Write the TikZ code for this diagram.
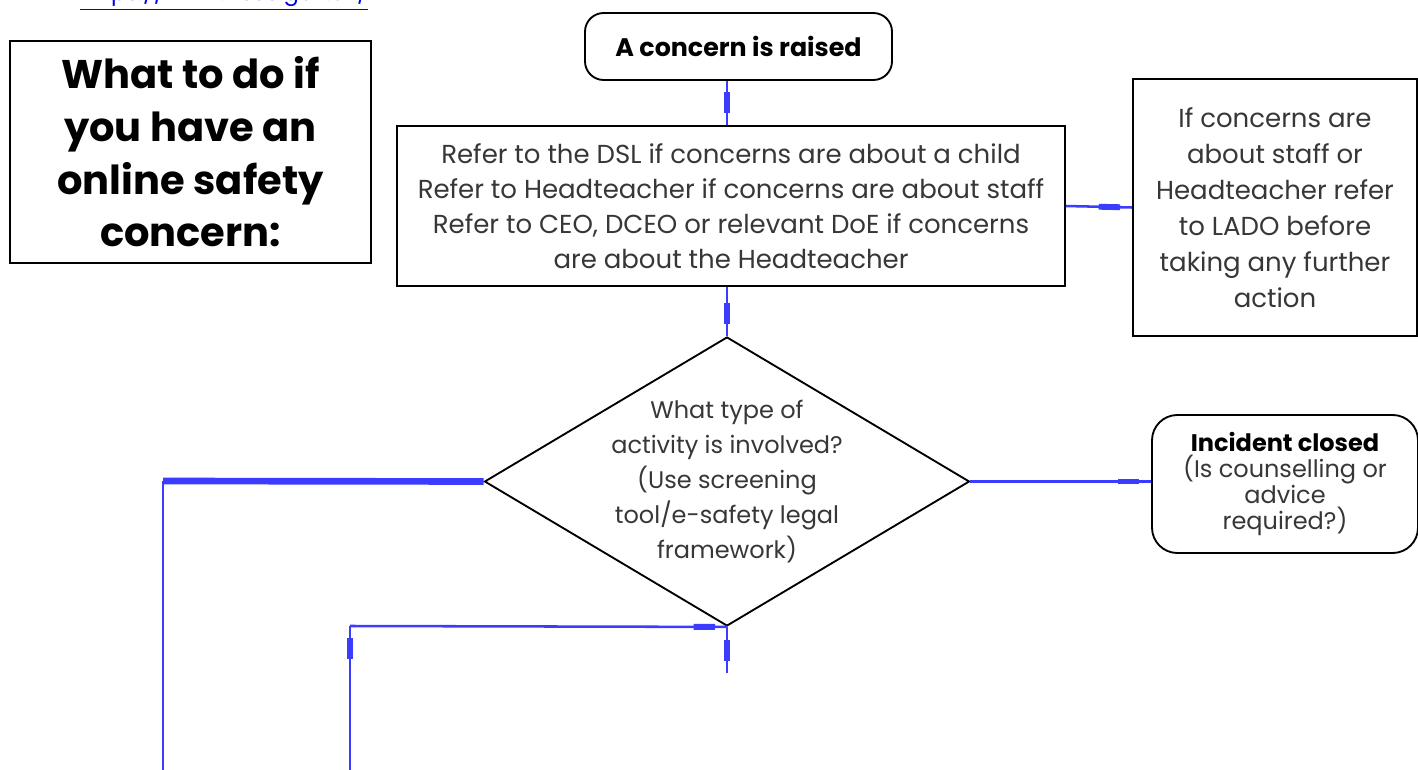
\documentclass[tikz,border=0pt]{standalone}
\usepackage{fontspec}
\setmainfont{Poppins}
\usetikzlibrary{shapes.geometric}
\usetikzlibrary{decorations.markings}
\usetikzlibrary{arrows}
\definecolor{flowblue}{RGB}{60,60,255}
\definecolor{linkblue}{RGB}{0,0,238}
\definecolor{bodygray}{RGB}{55,55,55}

\begin{document}
\begin{tikzpicture}[x=0.75pt, y=-0.75pt, semithick]
    \tikzstyle{box}=[draw=black, line width=1.4pt, fill=white, align=center, inner sep=0pt]
    \tikzstyle{endbox}=[box, rounded corners=14pt]
    \tikzstyle{flow}=[draw=flowblue, line width=1.9pt, postaction={decorate},
        decoration={markings, mark=at position -9pt with {\fill[flowblue] (-16pt,-2.2pt) rectangle (0pt,2.2pt);}}]
    \useasboundingbox (0,0) rectangle (1418,770);
    \node[text=linkblue, anchor=base, font=\fontsize{17}{20}\selectfont]    (link) at (224,1)	{\underline{https://www.ncsc.gov.uk/}};
    \node[box, minimum width=270.75pt, minimum height=166.5pt, font=\fontsize{30}{39.5}\selectfont\bfseries]    (title) at (190.5,152)
        {What to do if\\ you have an\\ online safety\\ concern:};
    \node[endbox, minimum width=230.25pt, minimum height=50.25pt, font=\fontsize{19}{22}\selectfont\bfseries]    (raised) at (738.5,46.5)
        {A concern is raised};
    \node[box, text=bodygray, minimum width=501pt, minimum height=120pt, font=\fontsize{19.5}{26.25}\selectfont]    (dsl) at (731,206)
        {Refer to the DSL if concerns are about a child\\ Refer to Headteacher if concerns are about staff\\
         Refer to CEO, DCEO or relevant DoE if concerns\\ are about the Headteacher};
    \node[box, text=bodygray, minimum width=213pt, minimum height=192.75pt, font=\fontsize{19.5}{27}\selectfont]    (lado) at (1275,207.5)
        {If concerns are\\ about staff or\\ Headteacher refer\\ to LADO before\\ taking any further\\ action};
    \node[box, diamond, minimum width=363.75pt, minimum height=216.75pt,
        label={[align=center, text=bodygray, font=\fontsize{18}{26.25}\selectfont]center:What type of\\ activity is involved?\\ (Use screening\\ tool/e-safety legal\\ framework)}]    (type) at (727,481.5)	{};
    \node[endbox, text=bodygray, rounded corners=19pt, minimum width=199.5pt, minimum height=103.5pt, font=\fontsize{18}{19.5}\selectfont]    (closed) at (1285,484)
        {\textcolor{black}{\bfseries Incident closed}\\ (Is counselling or\\ advice\\ required?)};
    \coordinate (w_turn) at (163,481);
    \coordinate (w_end) at (163,770);
    \coordinate (s_end) at (727,673);
    \coordinate (l_turn) at (350,626);
    \coordinate (l_end) at (350,770);
    \path
    (raised.south -| type.north)
      edge[flow]	(dsl.north -| type.north)
    (dsl.south -| type.north)
      edge[flow]	(type.north)
    (dsl.east)
      edge[flow]	(lado.west)
    (type.east)
      edge[flow]	(type.east -| closed.west)
    (type.south)
      edge[flow]	(s_end)
    (l_end)
      edge[flow]	(l_turn)
    (l_turn)
      edge[flow]	(type.south);
    \draw[flowblue, line width=5pt] (type.west) -- (w_turn);
    \draw[flowblue, line width=1.9pt] (w_turn) -- (w_end);
\end{tikzpicture}
\end{document}
